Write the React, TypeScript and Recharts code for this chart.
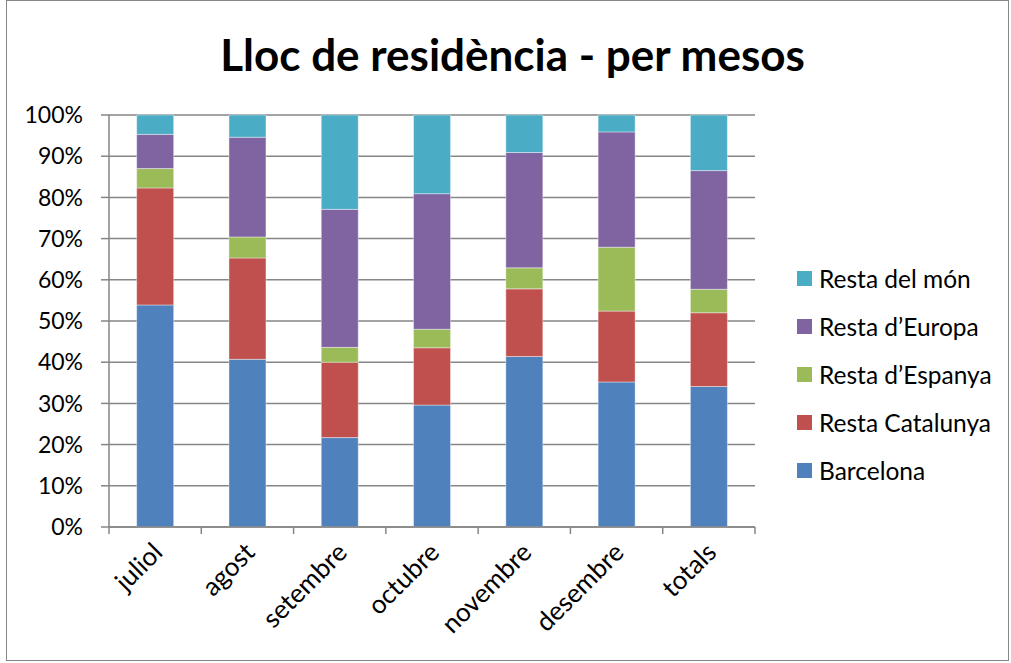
import React from 'react';
import { BarChart, Bar, XAxis, YAxis, CartesianGrid, Legend } from 'recharts';

const categories = ['juliol', 'agost', 'setembre', 'octubre', 'novembre', 'desembre', 'totals'];
const barcelona = [53.9, 40.7, 21.7, 29.6, 41.4, 35.2, 34.1];
const restaCatalunya = [28.4, 24.6, 18.3, 13.9, 16.4, 17.2, 17.9];
const restaEspanya = [4.7, 5.1, 3.6, 4.5, 5.1, 15.5, 5.7];
const restaEuropa = [8.3, 24.2, 33.5, 32.9, 28.0, 28.0, 28.8];
const restaMon = [4.7, 5.4, 22.9, 19.1, 9.1, 4.1, 13.5];
const yTicks = [0, 0.1, 0.2, 0.3, 0.4, 0.5, 0.6, 0.7, 0.8, 0.9, 1];

const series = [
  { key: 'barcelona', name: 'Barcelona', color: '#4F81BD', values: barcelona },
  { key: 'catalunya', name: 'Resta Catalunya', color: '#C0504D', values: restaCatalunya },
  { key: 'espanya', name: 'Resta d\u2019Espanya', color: '#9BBB59', values: restaEspanya },
  { key: 'europa', name: 'Resta d\u2019Europa', color: '#8064A2', values: restaEuropa },
  { key: 'mon', name: 'Resta del m\u00f3n', color: '#4BACC6', values: restaMon },
];

const data = categories.map((c, i) => {
  const row: Record<string, any> = { cat: c };
  series.forEach((s) => {
    row[s.key] = s.values[i];
  });
  return row;
});

const FONT = 'Lato, "Open Sans", sans-serif';
const GREY = '#868686';
const PLOT_W = 646;
const BAND = PLOT_W / categories.length;

const XTick = (props: any) => {
  const { x, y, payload, index } = props;
  return (
    <g>
      <line x1={x - BAND / 2} y1={y} x2={x - BAND / 2} y2={y + 7} stroke={GREY} strokeWidth={1.5} />
      {index === categories.length - 1 && (
        <line x1={x + BAND / 2} y1={y} x2={x + BAND / 2} y2={y + 7} stroke={GREY} strokeWidth={1.5} />
      )}
      <text
        x={0}
        y={0}
        transform={`translate(${x + 9},${y + 27}) rotate(-45)`}
        textAnchor="end"
        fontFamily={FONT}
        fontSize={26}
        fill="#000"
      >
        {payload.value}
      </text>
    </g>
  );
};

const LegendContent = () => {
  const items = [...series].reverse();
  return (
    <div style={{ fontFamily: FONT, fontSize: 24.5, color: '#000' }}>
      {items.map((s) => (
        <div key={s.key} style={{ display: 'flex', alignItems: 'center', height: 48 }}>
          <div style={{ width: 15, height: 15, background: s.color, marginRight: 7, flexShrink: 0 }} />
          <span style={{ whiteSpace: 'nowrap' }}>{s.name}</span>
        </div>
      ))}
    </div>
  );
};

export default function App() {
  return (
    <div style={{ position: 'absolute', left: 0, top: 0, width: 1011, height: 663, background: '#fff' }}>
      <div
        style={{
          position: 'absolute',
          left: 6,
          top: 0,
          width: 1003,
          height: 661,
          border: `1px solid ${GREY}`,
          boxSizing: 'border-box',
        }}
      />
      <div
        style={{
          position: 'absolute',
          left: 0,
          top: 26,
          width: 1025,
          textAlign: 'center',
          fontFamily: FONT,
          fontWeight: 700,
          fontSize: 44,
          lineHeight: '56px',
          color: '#000',
        }}
      >
        Lloc de residència - per mesos
      </div>
      <div style={{ position: 'absolute', left: 0, top: 0 }}>
        <BarChart
          width={1011}
          height={663}
          data={data}
          stackOffset="expand"
          barCategoryGap="30%"
          margin={{ top: 115, right: 41, bottom: 36, left: 1 }}
        >
          <CartesianGrid vertical={false} stroke={GREY} strokeWidth={1.5} />
          <XAxis
            dataKey="cat"
            height={100}
            tickLine={false}
            tickSize={0}
            tickMargin={0}
            interval={0}
            axisLine={{ stroke: GREY, strokeWidth: 1.5 }}
            tick={<XTick />}
          />
          <YAxis
            width={108}
            domain={[0, 1]}
            ticks={yTicks}
            interval={0}
            tickFormatter={(v: number) => `${Math.round(v * 100)}%`}
            tickSize={8}
            tickMargin={18}
            axisLine={{ stroke: GREY, strokeWidth: 1.5 }}
            tickLine={{ stroke: GREY, strokeWidth: 1.5 }}
            tick={{ fontFamily: FONT, fontSize: 23, fill: '#000' }}
          />
          <Legend
            layout="vertical"
            align="right"
            verticalAlign="middle"
            content={<LegendContent />}
            wrapperStyle={{ left: 797, top: 254, width: 215 }}
          />
          {series.map((s) => (
            <Bar
              key={s.key}
              dataKey={s.key}
              name={s.name}
              stackId="a"
              fill={s.color}
              stroke="#ffffff"
              strokeOpacity={0.5}
              strokeWidth={0.8}
              isAnimationActive={false}
            />
          ))}
        </BarChart>
      </div>
    </div>
  );
}
